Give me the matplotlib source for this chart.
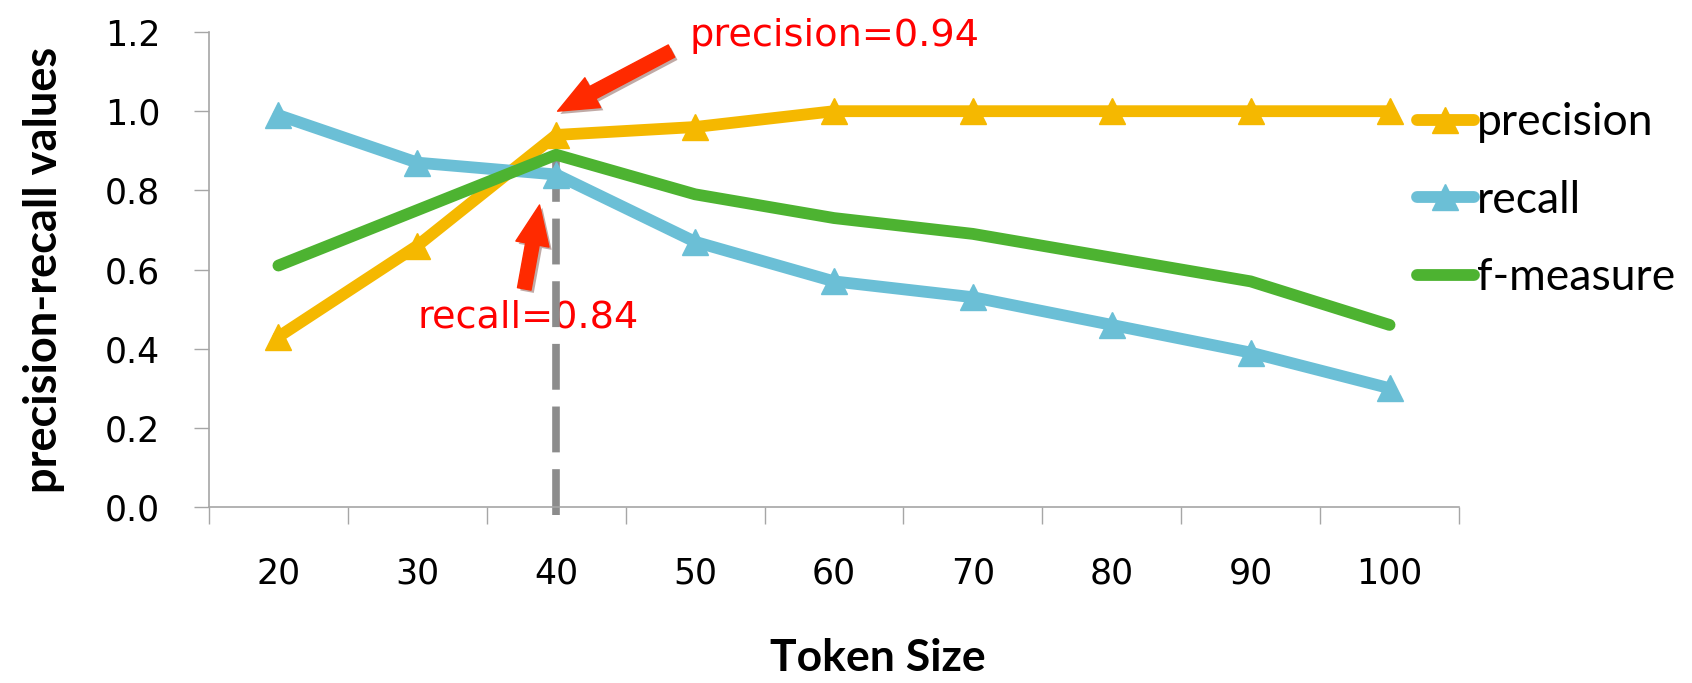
import numpy as np
import matplotlib.pyplot as plt
import matplotlib.patheffects as pe

# ---------------------------
# Daten
# ---------------------------
token_size = ["20", "30", "40", "50", "60", "70", "80", "90", "100"]
precision = [0.43, 0.66, 0.94, 0.96, 1.00, 1.00, 1.00, 1.00, 1.00]
recall = [0.99, 0.87, 0.84, 0.67, 0.57, 0.53, 0.46, 0.39, 0.30]
f_measure = [0.61, 0.75, 0.89, 0.79, 0.73, 0.69, 0.63, 0.57, 0.46]

markierung_idx = 2  # Token Size 40

c_prec = "#F5B800"
c_rec = "#6BBFD6"
c_f = "#4DB331"
c_achse = "#A6A6A6"
c_rot = "#FF0000"
c_pfeil = "#FF2A00"

fig = plt.figure(figsize=(16.92, 6.83), dpi=100)
ax = fig.add_axes([0.1235, 0.2577, 0.7388, 0.6954])

x = np.arange(len(token_size)) + 0.5

ax.plot(x, precision, color=c_prec, lw=8.5, marker="^", ms=19,
        solid_capstyle="round", label="precision", zorder=3, clip_on=False)
ax.plot(x, recall, color=c_rec, lw=8.5, marker="^", ms=19,
        solid_capstyle="round", label="recall", zorder=3, clip_on=False)
ax.plot(x, f_measure, color=c_f, lw=8.5, solid_capstyle="round",
        label="f-measure", zorder=3, clip_on=False)

# gestrichelte Linie bei 40
ax.plot([x[markierung_idx], x[markierung_idx]], [-0.02, 0.92],
        color="#8C8C8C", lw=5.5, ls=(0, (6, 2.2)), zorder=2, clip_on=False)

# Achsen
ax.set_xlim(0, len(token_size))
ax.set_ylim(0, 1.2)
ax.set_xticks(np.arange(len(token_size) + 1))
ax.set_xticklabels([])
ax.set_xticks(x, minor=True)
ax.set_xticklabels(token_size, minor=True)
ax.tick_params(axis="x", which="major", length=12, width=1, color=c_achse,
               direction="out")
ax.tick_params(axis="x", which="minor", length=0, pad=36, labelsize=25)
ax.set_yticks(np.arange(0, 1.21, 0.2))
ax.set_yticklabels([f"{v:.1f}" for v in np.arange(0, 1.21, 0.2)])
ax.tick_params(axis="y", length=11, width=1, color=c_achse, direction="out",
               pad=24, labelsize=25)
for s in ["top", "right"]:
    ax.spines[s].set_visible(False)
for s in ["left", "bottom"]:
    ax.spines[s].set_color(c_achse)
    ax.spines[s].set_linewidth(1.2)

ax.set_xlabel("Token Size", fontsize=32, fontweight="bold", family="Lato")
ax.xaxis.set_label_coords(0.535, -0.275)
ax.set_ylabel("precision-recall values", fontsize=32.5, fontweight="bold",
              family="Lato", labelpad=29)

# Annotationen
schatten = [pe.SimplePatchShadow(offset=(2, -2), alpha=0.35), pe.Normal()]
pfeil = dict(arrowstyle="simple,head_length=1.3,head_width=1.1,tail_width=0.45",
             fc=c_pfeil, ec=c_pfeil, mutation_scale=22, shrinkA=0, shrinkB=0,
             path_effects=schatten)
ax.annotate("", xy=(2.51, 1.0), xytext=(3.33, 1.152), arrowprops=pfeil,
            annotation_clip=False)
ax.annotate("", xy=(2.38, 0.763), xytext=(2.27, 0.551), arrowprops=pfeil,
            annotation_clip=False)
ax.text(3.46, 1.19, f"precision={precision[markierung_idx]:.2f}", color=c_rot,
        fontsize=27.5, ha="left", va="center", clip_on=False)
ax.text(1.50, 0.478, f"recall={recall[markierung_idx]:.2f}", color=c_rot,
        fontsize=27.5, ha="left", va="center", clip_on=False, zorder=1)

ax.legend(loc="upper left", bbox_to_anchor=(0.966, 0.852), frameon=False,
          prop={"family": "Lato", "size": 32}, handlelength=1.3,
          handletextpad=0.05, labelspacing=0.82, borderaxespad=0, borderpad=0,
          numpoints=1)

fig.savefig("out.png", dpi=100)
